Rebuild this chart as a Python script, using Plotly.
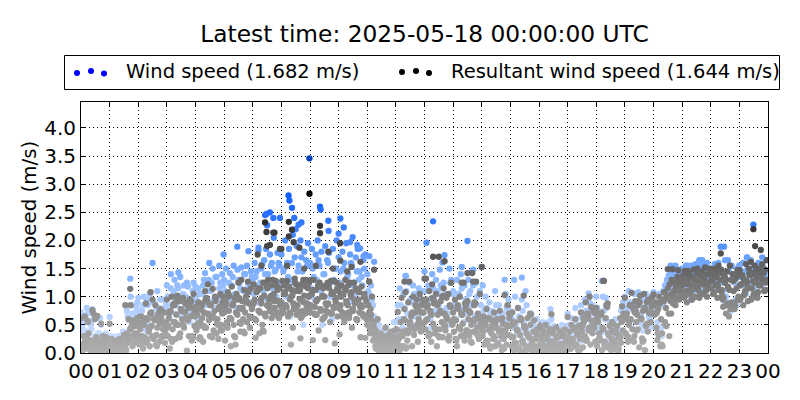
import plotly.graph_objects as go

hour_labels = ["00","01","02","03","04","05","06","07","08","09","10","11","12","13","14","15","16","17","18","19","20","21","22","23","00"]
y_ticks = [0.0,0.5,1.0,1.5,2.0,2.5,3.0,3.5,4.0]
title_text = "Latest time: 2025-05-18 00:00:00 UTC"
y_title = "Wind speed (m/s)"
wind_label = "Wind speed (1.682 m/s)"
res_label = "Resultant wind speed (1.644 m/s)"

# resultant wind speed: regular 2-minute samples read hour by hour
res_body = [
0.62,0.12,0.05,0.30,0.65,0.18,0.08,0.25,0.35,0.10,0.04,0.22,0.76,0.70,0.15,0.06,0.28,0.66,0.10,0.03,0.20,0.52,0.12,0.30,0.06,0.16,0.25,0.08,0.03,0.14,
0.52,0.10,0.25,0.05,0.18,0.02,0.12,0.22,0.08,0.15,0.03,0.25,0.10,0.06,0.20,0.32,0.12,0.04,0.35,0.18,0.60,0.25,0.85,0.45,0.12,0.58,0.35,0.48,0.22,0.62,
0.55,0.15,0.42,0.65,0.30,0.08,0.50,0.28,0.88,0.18,0.60,0.38,0.12,1.08,0.48,0.95,0.25,0.58,0.85,0.32,0.45,0.70,0.20,0.52,0.62,0.30,0.42,0.72,0.18,0.55,
0.95,0.30,0.62,0.08,0.75,1.00,0.42,0.55,0.85,0.25,0.68,1.02,0.50,0.92,0.35,0.78,0.60,0.98,0.45,0.72,0.88,0.04,0.58,0.30,0.95,0.65,0.22,0.80,1.05,0.48,
0.82,0.40,0.68,0.90,0.25,0.55,0.78,0.62,0.20,0.72,1.10,0.45,0.95,1.22,0.58,0.30,0.85,0.65,1.14,0.40,0.75,0.92,0.35,0.60,0.25,0.82,1.05,0.50,0.70,1.00,
0.72,0.22,0.90,0.55,1.08,0.75,0.62,0.12,1.18,0.85,0.50,0.98,0.15,1.05,0.68,1.25,0.80,0.38,1.30,0.92,0.60,1.12,0.72,1.00,0.55,1.27,0.88,0.45,1.15,0.78,
0.62,1.22,0.95,0.27,1.08,1.15,0.75,0.35,1.15,0.88,0.50,1.25,1.02,0.70,1.25,0.85,1.30,0.95,0.75,1.20,0.62,1.30,1.05,0.80,1.28,0.72,1.12,0.92,1.15,0.68,
0.90,1.28,0.72,1.20,1.05,0.82,1.28,0.65,1.18,0.95,0.15,1.12,0.45,0.78,1.32,1.10,0.68,0.85,1.18,0.96,0.26,1.22,0.75,1.30,1.02,0.70,1.30,0.88,1.15,1.25,
0.72,1.30,1.05,0.23,1.30,0.82,1.12,0.68,0.95,0.40,1.25,0.78,1.20,0.60,1.15,1.00,0.23,0.75,1.20,0.88,1.15,0.55,1.28,0.70,1.05,1.28,0.17,0.90,1.25,0.65,
1.10,0.33,0.85,1.20,0.72,1.05,0.55,1.30,0.92,0.70,1.20,0.62,1.25,1.00,0.45,0.78,1.25,0.88,1.15,0.60,1.10,0.95,0.72,0.28,1.18,0.82,0.65,1.05,0.27,0.92,
0.50,0.85,1.27,0.35,0.68,1.00,0.22,0.55,0.42,0.08,0.30,0.60,0.15,0.04,0.35,0.20,0.02,0.28,0.10,0.45,0.05,0.30,0.15,0.02,0.22,0.38,0.08,0.18,0.03,0.40,
0.12,0.42,0.73,0.25,0.05,0.55,0.98,0.30,0.12,0.78,1.08,0.40,0.22,0.90,1.27,0.55,0.65,0.12,1.00,0.32,0.72,0.45,0.95,0.20,0.60,1.05,0.38,0.85,0.52,0.72,
1.32,0.42,0.95,0.60,0.30,1.10,0.75,0.20,1.22,0.52,0.88,0.35,1.05,0.12,0.68,1.71,0.42,0.92,0.55,0.28,1.15,0.70,0.40,0.98,0.60,1.05,0.30,0.82,1.25,0.50,
0.72,0.38,0.95,0.58,0.12,0.85,0.45,1.00,0.30,0.68,0.52,1.25,0.22,0.78,0.40,0.92,0.60,0.30,0.72,0.50,1.42,0.38,0.85,0.60,1.27,0.45,0.70,0.25,1.05,0.55,
1.53,0.30,0.65,0.15,0.50,0.78,0.22,0.42,0.62,0.08,0.35,0.58,0.25,0.72,0.12,0.45,0.60,0.18,0.38,0.75,0.30,0.05,0.52,0.25,1.03,0.42,0.15,0.85,0.32,0.62,
0.48,0.12,0.72,0.28,0.05,0.55,0.18,0.40,0.80,0.10,0.32,0.58,0.03,0.22,1.02,0.45,0.12,0.35,0.62,0.08,0.28,0.50,0.15,0.03,0.38,0.58,0.10,0.25,0.42,0.06,
0.30,0.48,0.08,0.18,0.40,0.02,0.25,0.50,0.12,0.32,0.05,0.42,0.20,0.69,0.10,0.35,0.03,0.22,0.45,0.12,0.28,0.06,0.38,0.16,0.02,0.30,0.10,0.42,0.20,0.05,
0.64,0.18,0.38,0.08,0.50,0.25,0.12,0.42,0.60,0.15,0.32,0.05,0.48,0.25,0.72,0.38,0.10,0.55,0.30,0.90,0.22,0.62,0.40,1.00,0.15,0.58,0.35,0.75,0.45,0.20,
0.80,0.12,0.55,0.35,0.25,0.68,0.05,0.42,1.28,0.20,0.62,0.10,0.88,0.32,0.48,0.15,0.25,0.40,0.06,0.22,0.35,0.12,0.48,0.03,0.28,0.62,0.18,0.83,0.40,0.60,
0.98,0.35,0.70,0.20,0.50,0.85,0.60,1.07,0.42,0.78,0.30,0.92,0.55,0.68,0.85,0.10,1.02,0.62,0.26,0.75,1.05,0.05,0.48,0.90,0.38,0.72,0.95,0.55,0.82,1.00,
1.04,0.68,0.90,0.45,0.23,0.78,1.00,0.12,0.60,0.35,0.95,1.08,0.55,0.80,1.02,1.15,0.70,1.22,0.92,1.30,1.49,1.05,1.25,0.85,1.18,1.35,1.47,0.95,1.28,1.10,
1.20,1.38,0.98,1.46,1.10,0.90,1.30,1.42,1.05,1.22,0.95,1.36,1.48,1.15,1.00,1.28,1.50,1.12,0.98,1.38,1.22,1.45,1.05,1.30,1.52,1.18,1.00,1.40,1.25,1.50,
1.15,1.42,1.28,1.05,1.50,1.20,1.35,0.98,1.55,1.12,1.30,1.48,1.02,0.82,1.38,1.25,0.70,1.45,1.18,0.65,1.55,1.30,0.90,1.40,1.10,0.78,1.32,1.15,1.47,1.00,
1.47,0.95,1.22,1.38,0.85,1.30,1.10,1.58,1.25,0.92,1.50,1.38,1.62,1.15,1.42,1.05,1.55,1.28,1.48,0.98,1.35,1.50,1.20,1.45,1.58,1.30,1.10,1.48,1.25,1.65,
]
# the minutes in between, read as runs of neighbouring values in the dense band
res_fill = [
0.10,0.12,0.15,0.18,0.22,0.25,0.58,0.55,0.22,0.18,0.14,0.10,0.08,0.05,0.60,0.62,0.25,0.22,0.18,0.15,0.04,0.06,0.08,0.12,0.20,0.24,0.28,0.10,0.07,0.04,
0.16,0.14,0.10,0.06,0.04,0.02,0.14,0.18,0.22,0.24,0.07,0.04,0.02,0.12,0.16,0.20,0.08,0.05,0.22,0.26,0.30,0.42,0.45,0.50,0.30,0.18,0.52,0.55,0.35,0.30,
0.30,0.28,0.50,0.52,0.20,0.18,0.58,0.62,0.25,0.22,0.45,0.42,0.70,0.72,0.30,0.28,0.62,0.60,0.15,0.12,0.60,0.58,0.75,0.78,0.28,0.30,0.55,0.52,0.35,0.30,
0.45,0.48,0.70,0.75,0.25,0.20,0.85,0.88,0.55,0.50,0.92,0.95,0.30,0.28,0.78,0.75,0.50,0.48,0.90,0.88,0.62,0.58,0.80,0.85,0.95,0.92,0.30,0.28,0.70,0.65,
0.75,0.78,0.52,0.48,0.28,0.25,0.85,0.88,0.48,0.45,0.95,0.98,0.70,0.68,0.88,0.85,0.30,0.28,0.65,0.62,1.00,0.98,0.52,0.50,0.78,0.80,0.42,0.40,0.90,0.92,
0.80,0.85,0.48,0.45,1.00,1.02,0.62,0.60,0.85,0.88,0.30,0.28,0.72,0.70,0.95,0.98,0.55,0.52,0.78,0.80,0.38,0.35,0.90,0.92,1.10,1.08,0.65,0.62,0.85,0.82,
0.88,0.90,0.60,0.58,1.10,1.12,0.75,0.72,0.95,0.98,0.40,0.38,0.68,0.65,1.18,1.15,0.82,0.85,1.00,1.02,0.72,0.70,0.92,0.95,1.20,1.18,0.65,0.62,0.85,0.88,
0.78,0.75,1.05,1.08,0.85,0.82,1.18,1.15,0.72,0.70,1.00,1.02,0.88,0.85,1.25,1.22,0.75,0.72,1.10,1.12,0.62,0.65,0.92,0.90,1.20,1.18,0.82,0.80,1.00,1.02,
0.85,0.82,1.10,1.12,0.70,0.68,0.92,0.95,1.20,1.18,0.78,0.75,1.00,1.02,0.62,0.65,0.88,0.85,1.25,1.22,0.72,0.70,1.05,1.08,0.82,0.80,0.95,0.98,1.15,1.12,
0.80,0.78,1.00,1.02,0.65,0.62,1.15,1.12,0.88,0.85,0.72,0.70,1.05,1.08,0.78,0.75,0.95,0.92,0.60,0.58,1.10,1.08,0.82,0.85,0.70,0.68,1.00,0.98,0.62,0.60,
0.65,0.70,0.45,0.78,0.58,0.35,0.50,0.25,0.12,0.38,0.20,0.05,0.28,0.15,0.32,0.08,0.22,0.02,0.18,0.30,0.10,0.25,0.05,0.35,0.12,0.20,0.03,0.28,0.15,0.10,
0.20,0.18,0.30,0.28,0.10,0.12,0.38,0.35,0.60,0.58,0.08,0.10,0.35,0.38,0.50,0.48,0.70,0.72,0.45,0.42,0.85,0.82,0.50,0.52,0.75,0.72,0.42,0.40,0.95,0.92,
0.55,0.58,0.82,0.85,0.35,0.32,0.70,0.68,0.98,0.95,0.45,0.42,0.88,0.85,0.30,0.28,0.75,0.72,1.00,1.02,0.50,0.48,0.65,0.62,0.25,0.22,0.85,0.82,0.55,0.52,
0.60,0.58,0.25,0.22,0.80,0.78,0.45,0.42,0.70,0.68,0.32,0.30,0.88,0.85,0.40,0.38,0.75,0.72,0.20,0.18,0.58,0.55,0.90,0.88,0.35,0.32,0.65,0.62,0.48,0.45,
0.40,0.38,0.55,0.52,0.20,0.18,0.62,0.60,0.12,0.10,0.48,0.45,0.30,0.28,0.55,0.58,0.18,0.15,0.42,0.40,0.60,0.62,0.10,0.08,0.35,0.32,0.50,0.48,0.70,0.68,
0.30,0.28,0.55,0.52,0.18,0.15,0.42,0.40,0.08,0.05,0.62,0.60,0.20,0.18,0.48,0.45,0.05,0.08,0.30,0.28,0.70,0.68,0.25,0.22,0.10,0.12,0.38,0.35,0.02,0.05,
0.15,0.12,0.28,0.25,0.05,0.03,0.35,0.32,0.12,0.10,0.22,0.20,0.42,0.40,0.08,0.05,0.18,0.15,0.30,0.28,0.02,0.04,0.14,0.12,0.38,0.35,0.06,0.08,0.25,0.22,
0.28,0.25,0.10,0.08,0.22,0.20,0.45,0.42,0.15,0.12,0.38,0.35,0.05,0.08,0.50,0.48,0.62,0.60,0.22,0.25,0.70,0.68,0.45,0.42,0.82,0.80,0.55,0.52,0.72,0.70,
0.60,0.62,0.25,0.22,0.70,0.72,0.45,0.42,0.15,0.12,0.85,0.82,0.35,0.32,0.08,0.05,0.55,0.52,0.22,0.20,0.38,0.35,0.10,0.08,0.30,0.28,0.55,0.58,0.70,0.68,
0.65,0.62,0.30,0.28,0.55,0.58,0.85,0.82,0.22,0.20,0.72,0.75,0.40,0.42,0.92,0.90,0.62,0.60,0.20,0.22,0.80,0.78,0.50,0.52,0.95,0.92,0.70,0.72,0.88,0.85,
0.85,0.88,0.70,0.72,0.35,0.32,0.88,0.90,0.15,0.12,0.92,0.95,0.50,0.48,1.00,1.02,0.30,0.95,0.70,1.05,0.88,1.10,1.00,1.18,0.95,1.25,1.10,1.30,1.02,1.20,
1.30,1.28,1.05,1.02,1.25,1.22,1.40,1.38,1.12,1.10,0.95,0.98,1.32,1.30,1.18,1.20,1.42,1.40,1.02,1.05,1.28,1.25,1.38,1.35,1.10,1.12,1.22,1.25,1.45,1.42,
1.30,1.32,1.05,1.08,1.40,1.38,1.22,1.20,1.45,1.42,1.10,1.12,0.95,0.98,1.35,1.32,0.85,0.88,1.15,1.12,0.78,0.80,1.30,1.28,0.88,0.85,1.35,1.38,0.95,0.98,
1.20,1.22,1.38,1.35,1.02,1.05,1.30,1.28,1.18,1.15,1.42,1.40,0.95,0.98,1.28,1.25,1.40,1.38,1.05,1.08,1.20,1.22,1.35,1.32,1.45,1.42,1.10,1.12,1.30,1.28,
]
res_peak_time = [6.17,6.43,6.48,6.72,6.50,6.60,6.95,7.26,7.37,7.26,7.43,7.63,7.00,6.76,7.98,8.35,8.35,8.64,9.05,9.06,9.45,9.76,10.24,10.07,12.30,12.70,13.50,13.70,13.30,12.05,11.30,18.25,22.35,23.49,23.55,23.75,23.00,20.50,21.20,1.72,1.55,6.30,7.20,7.80,8.20,8.80,9.30]
res_peak_speed = [1.75,2.32,2.15,2.14,1.90,1.92,1.85,2.33,2.19,2.07,1.97,1.87,1.85,2.14,2.83,2.26,2.13,1.80,1.95,1.64,1.53,1.62,1.48,1.27,1.71,1.63,1.42,1.27,1.25,1.32,1.27,1.28,1.77,2.20,1.90,1.83,1.47,1.49,1.46,1.14,0.85,1.55,1.55,1.50,1.55,1.50,1.45]

# wind speed: regular 4-minute samples read hour by hour
wind_body = [
0.72,0.35,0.40,0.80,0.20,0.50,0.78,0.30,0.15,0.35,0.62,0.25,0.28,0.35,0.18,
0.64,0.30,0.15,0.28,0.10,0.30,0.22,0.38,0.25,0.75,0.58,1.00,0.70,0.60,0.82,
0.98,0.55,0.75,1.00,0.40,0.85,1.05,0.72,0.90,0.60,1.10,0.80,0.62,0.95,0.78,
1.20,0.75,1.15,1.00,1.30,0.85,1.15,1.35,0.70,1.20,1.00,1.18,0.55,0.95,1.25,
1.18,0.60,1.05,0.85,1.20,1.42,0.95,1.30,1.10,1.50,0.80,1.35,1.00,1.25,1.40,
1.30,1.50,1.00,1.42,1.20,1.55,1.05,1.48,1.25,1.52,1.10,1.40,1.55,1.20,1.45,
1.30,1.60,1.45,1.82,1.25,1.58,1.65,1.85,1.40,1.75,1.60,2.05,1.48,1.78,1.55,
1.75,1.45,2.00,1.60,1.85,1.30,2.10,1.70,1.90,1.55,2.00,1.45,1.80,1.65,1.95,
1.60,1.85,1.35,1.75,2.00,1.55,1.80,1.40,1.90,1.65,1.78,1.25,1.85,1.50,2.00,
1.70,1.45,1.80,1.60,1.95,1.40,1.75,1.55,1.25,1.70,1.85,1.45,1.35,1.65,1.75,
1.40,1.05,1.20,0.85,0.60,0.30,0.50,0.40,0.25,0.35,0.45,0.20,0.35,0.18,0.55,
0.55,0.85,1.15,0.60,1.05,1.37,0.70,1.25,0.90,1.20,0.65,1.05,1.15,0.85,1.10,
1.45,0.80,1.20,0.60,1.40,0.95,1.30,1.10,1.48,0.75,1.25,1.05,0.70,1.50,1.30,
1.10,0.80,1.30,1.05,1.40,0.75,1.20,0.95,1.30,1.10,1.45,0.90,1.25,0.70,1.10,
1.53,0.75,1.00,0.60,0.90,0.75,0.45,1.10,0.65,0.85,0.35,0.70,1.30,0.80,0.95,
0.75,0.60,1.30,0.50,0.80,0.40,0.95,0.55,1.10,0.45,0.25,0.70,0.50,0.35,0.60,
0.45,0.30,0.55,0.20,0.40,0.55,0.78,0.30,0.48,0.15,0.42,0.25,0.50,0.20,0.30,
0.70,0.45,0.62,0.35,0.80,0.50,0.30,0.85,0.60,0.95,0.75,1.06,0.70,0.85,0.55,
1.00,0.60,0.45,1.28,0.75,0.98,0.35,0.55,0.30,0.20,0.60,0.30,0.40,0.75,0.90,
1.00,0.75,1.10,0.60,0.90,1.05,0.70,1.08,0.85,0.50,0.95,1.05,0.80,0.60,1.00,
1.08,0.90,0.55,1.05,0.45,1.10,1.20,1.30,1.38,1.55,1.30,1.50,1.40,1.25,1.45,
1.50,1.30,1.55,1.40,1.10,1.55,1.25,1.58,1.45,1.65,1.30,1.55,1.45,1.60,1.35,
1.50,1.40,1.58,1.30,1.60,1.45,1.25,1.89,1.00,1.65,0.85,1.55,1.40,0.95,1.50,
1.55,1.35,1.60,1.20,1.70,1.40,1.65,1.30,1.55,1.45,1.60,1.35,1.70,1.50,1.65,
]
# the pale samples in between, seen through gaps in the resultant cloud
wind_fill = [
0.45,0.55,0.30,0.70,0.15,0.42,0.60,0.25,0.20,0.35,0.50,0.15,0.30,0.22,0.10,
0.12,0.25,0.08,0.20,0.30,0.15,0.22,0.35,0.18,0.65,0.42,0.85,0.55,0.72,0.90,
0.75,0.45,0.85,0.60,0.95,0.50,0.70,0.90,0.65,0.80,0.55,0.95,0.70,0.50,0.85,
1.00,0.60,0.85,1.10,0.70,1.20,0.95,0.65,1.05,0.80,1.25,0.90,0.70,1.10,0.85,
0.95,1.15,0.75,1.05,1.30,0.85,1.10,0.70,1.25,0.95,1.35,0.80,1.15,0.90,1.20,
1.10,0.85,1.25,0.95,1.35,1.05,0.80,1.30,1.15,0.95,1.40,1.10,1.25,0.90,1.35,
1.05,1.35,0.90,1.20,1.50,1.10,1.40,0.95,1.30,1.55,1.15,1.45,1.00,1.60,1.25,
1.20,1.50,1.00,1.35,0.65,1.60,1.25,0.85,1.45,1.10,1.70,0.50,1.30,1.55,1.00,
1.15,1.50,0.95,1.30,1.65,1.10,0.50,1.40,1.20,1.60,1.00,0.60,1.30,1.50,1.10,
1.25,1.00,1.50,1.15,1.35,0.90,1.60,1.20,1.05,1.45,1.30,0.85,1.20,1.50,1.00,
1.10,0.85,0.95,0.65,0.45,0.20,0.35,0.28,0.15,0.25,0.32,0.12,0.20,0.10,0.40,
0.35,0.60,0.85,0.45,0.80,1.10,0.55,0.95,0.70,1.05,0.50,0.85,0.95,0.70,0.90,
1.10,0.60,0.95,0.45,1.15,0.75,1.05,0.85,1.20,0.55,1.00,0.80,0.50,1.25,1.05,
0.85,0.60,1.05,0.80,1.15,0.55,0.95,0.70,1.05,0.85,1.20,0.65,1.00,0.50,0.85,
1.20,0.55,0.80,0.40,0.70,0.60,0.30,0.85,0.45,0.65,0.25,0.55,1.05,0.60,0.75,
0.60,0.45,1.00,0.35,0.65,0.30,0.75,0.40,0.85,0.35,0.20,0.55,0.40,0.25,0.45,
0.35,0.20,0.40,0.15,0.30,0.45,0.60,0.20,0.35,0.10,0.30,0.20,0.40,0.15,0.25,
0.50,0.35,0.45,0.25,0.60,0.40,0.20,0.65,0.45,0.75,0.60,0.90,0.55,0.70,0.40,
0.80,0.45,0.35,1.00,0.60,0.80,0.25,0.40,0.20,0.15,0.45,0.20,0.30,0.60,0.70,
0.80,0.60,0.90,0.45,0.75,0.85,0.55,0.90,0.70,0.40,0.80,0.85,0.65,0.45,0.80,
0.90,0.75,0.40,0.85,0.30,0.90,1.00,1.10,1.20,1.40,1.15,1.35,1.25,1.10,1.30,
1.35,1.15,1.40,1.25,0.95,1.40,1.10,1.45,1.30,1.50,1.15,1.40,1.30,1.45,1.20,
1.35,1.25,1.45,1.15,1.45,1.30,1.10,0.90,0.90,1.45,0.75,1.40,1.25,0.85,1.35,
1.40,1.20,1.45,1.05,1.50,1.25,1.50,1.15,1.40,1.30,1.45,1.20,1.50,1.35,1.45,
]
wind_peak_time = [2.50,1.72,3.14,3.40,4.48,4.98,4.83,5.46,5.85,6.20,6.43,6.50,6.60,6.48,6.72,6.95,7.25,7.28,7.37,7.45,7.50,7.60,7.70,7.98,8.35,8.37,8.64,8.65,9.00,9.06,9.18,9.40,9.49,9.65,9.75,9.87,10.07,10.24,12.30,12.07,13.50,12.70,12.63,11.35,13.30,13.70,15.40,18.25,22.35,22.50,21.70,21.55,23.27,23.49,23.00,20.77,21.20]
wind_peak_speed = [1.60,1.32,1.40,1.43,1.60,1.75,1.55,1.89,1.81,1.87,2.45,2.27,2.50,2.47,2.40,2.40,2.80,2.71,2.58,2.40,2.20,2.28,2.32,3.46,2.60,2.55,2.35,2.17,2.12,2.39,2.23,1.97,2.06,1.92,1.86,1.72,1.72,1.62,2.34,1.96,1.99,1.74,1.61,1.37,1.53,1.48,1.34,1.28,1.89,1.65,1.65,1.58,1.70,2.28,1.55,1.55,1.55]

res_time = [i / 30 for i in range(len(res_body))] + [(i + 0.5) / 30 for i in range(len(res_fill))] + res_peak_time
res_speed = res_body + res_fill + res_peak_speed
wind_time = [i / 15 for i in range(len(wind_body))] + [(i + 0.5) / 15 for i in range(len(wind_fill))] + wind_peak_time
wind_speed = wind_body + wind_fill + wind_peak_speed

blue_scale = [[0.0,"#d4e3ff"],[0.30,"#a3c6ff"],[0.47,"#6ea5ff"],[0.70,"#2a72ff"],[0.82,"#0c5cff"],[1.0,"#0040c0"]]
gray_scale = [[0.0,"#b0b0b0"],[0.20,"#9a9a9a"],[0.35,"#828282"],[0.53,"#646464"],[0.70,"#444444"],[0.80,"#333333"],[1.0,"#000000"]]

fig = go.Figure()
fig.add_trace(go.Scatter(x=wind_time, y=wind_speed, mode="markers", name=wind_label, showlegend=False,
    marker=dict(size=6.3, color=wind_speed, colorscale=blue_scale, cmin=0, cmax=3.46, line=dict(width=0))))
fig.add_trace(go.Scatter(x=res_time, y=res_speed, mode="markers", name=res_label, showlegend=False,
    marker=dict(size=6.3, color=res_speed, colorscale=gray_scale, cmin=0, cmax=2.83, line=dict(width=0))))

axis = dict(showline=True, linecolor="black", linewidth=1, mirror="ticks", ticks="inside", ticklen=4, tickwidth=1,
    tickcolor="black", showgrid=True, gridcolor="black", griddash="1px,3px", gridwidth=1, zeroline=False, automargin=False,
    tickfont=dict(family="DejaVu Sans", size=20, color="black"))

shapes = [dict(type="rect", xref="paper", yref="paper", x0=64.5/800, x1=779.5/800, y0=1-89.5/400, y1=1-55.5/400,
               line=dict(color="black", width=1), fillcolor="white")]
for col, keys in (("#0000ff", [(77,73),(91,71),(104,73.5)]), ("#000000", [(402,72),(416,71),(429,73)])):
    for kx, ky in keys:
        shapes.append(dict(type="circle", xref="paper", yref="paper", xsizemode="pixel", ysizemode="pixel",
            xanchor=kx/800, yanchor=1-ky/400, x0=-3, x1=3, y0=-3, y1=3, fillcolor=col, line=dict(width=0)))

annotations = [
    dict(text=wind_label, x=124/800, y=1-71/400, xref="paper", yref="paper", xanchor="left", yanchor="middle", showarrow=False,
         font=dict(family="DejaVu Sans", size=19.5, color="black")),
    dict(text=res_label, x=449/800, y=1-71/400, xref="paper", yref="paper", xanchor="left", yanchor="middle", showarrow=False,
         font=dict(family="DejaVu Sans", size=19.5, color="black")),
    dict(text=y_title, x=29/800, y=1-227.5/400, xref="paper", yref="paper", xanchor="center", yanchor="middle", textangle=-90,
         showarrow=False, font=dict(family="DejaVu Sans", size=19.8, color="black")),
]

fig.update_layout(
    width=800, height=400, margin=dict(l=0, r=0, t=0, b=0), plot_bgcolor="white", paper_bgcolor="white",
    title=dict(text=title_text, x=424.5/800, xanchor="center", y=1-34/400, yanchor="middle", automargin=False,
               font=dict(family="DejaVu Sans", size=23.3, color="black")),
    xaxis=dict(axis, domain=[81/800, 768/800], range=[0, 24], tickmode="array", tickvals=list(range(25)), ticktext=hour_labels),
    yaxis=dict(axis, domain=[47/400, 298/400], range=[0, 4.46], tickmode="array", tickvals=y_ticks,
               ticktext=[f"{v:.1f}" for v in y_ticks]),
    shapes=shapes, annotations=annotations, showlegend=False,
)
fig.write_html("out.html", config=dict(displayModeBar=False), post_script="document.body.style.margin='0';")
